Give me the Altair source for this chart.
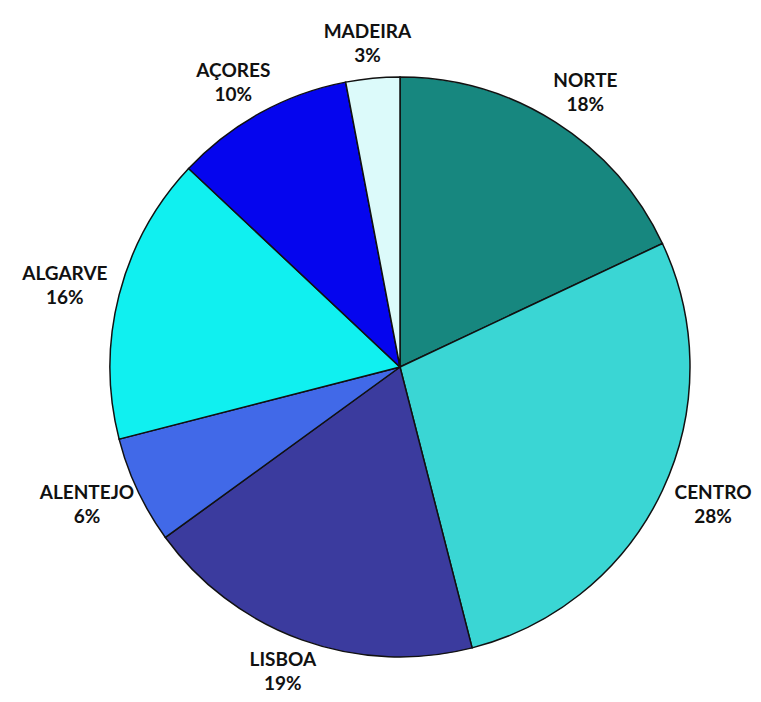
import altair as alt
import pandas as pd

regions = ["NORTE", "CENTRO", "LISBOA", "ALENTEJO", "ALGARVE", "AÇORES", "MADEIRA"]
shares = [18, 28, 19, 6, 16, 10, 3]
colors = ["#17877f", "#3ad6d4", "#3b3b9e", "#4169e8", "#10f0f0", "#0505ee", "#dcfafa"]

df = pd.DataFrame({
    "region": regions,
    "share": shares,
    "idx": list(range(len(regions))),
})
df["label"] = [f"{r}\n{s}%" for r, s in zip(regions, shares)]

cx, cy = 392, 359
rx, ry = 346, 324

base = alt.Chart(df)

pie = base.mark_arc(stroke="#111111", strokeWidth=1.5, radius=290).encode(
    theta=alt.Theta("share:Q", stack=True),
    order=alt.Order("idx:Q", sort="ascending"),
    color=alt.Color("region:N", scale=alt.Scale(domain=regions, range=colors), legend=None),
    x=alt.value(cx),
    y=alt.value(cy),
)

labels = base.transform_joinaggregate(
    total="sum(share)"
).transform_window(
    cum="sum(share)", sort=[alt.SortField("idx", order="ascending")]
).transform_calculate(
    mid="(datum.cum - datum.share / 2) / datum.total * 2 * PI",
).transform_calculate(
    lx=f"{cx} + {rx} * sin(datum.mid)",
    ly=f"{cy} - {ry} * cos(datum.mid)",
).mark_text(
    font="Lato",
    fontWeight="bold",
    fontSize=19,
    color="#111111",
    lineBreak="\n",
    lineHeight=24,
    align="center",
    baseline="middle",
    dy=-12,
).encode(
    text="label:N",
    x=alt.X("lx:Q", scale=None, axis=None),
    y=alt.Y("ly:Q", scale=None, axis=None),
)

chart = (pie + labels).properties(
    width=745,
    height=686,
    padding=0,
    autosize=alt.AutoSizeParams(type="none"),
).configure_view(stroke=None)

chart.save("out.html", embed_options={"renderer": "svg", "actions": False})
